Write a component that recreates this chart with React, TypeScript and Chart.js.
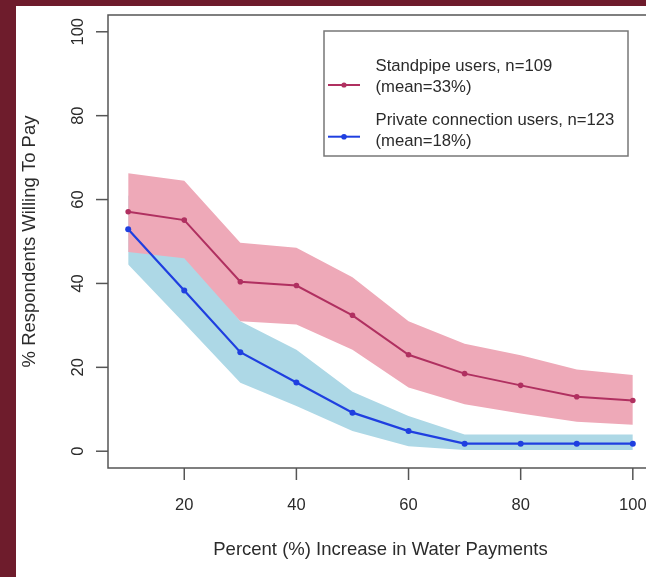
import React, { useEffect, useRef } from "react";
import { Chart, registerables } from "chart.js";

Chart.register(...registerables);

// ---- data ----
const xValues = [10, 20, 30, 40, 50, 60, 70, 80, 90, 100];

const standpipeMean = [57.1, 55.1, 40.4, 39.5, 32.4, 23.0, 18.5, 15.7, 13.0, 12.1];
const standpipeUpper = [66.3, 64.5, 49.7, 48.5, 41.5, 31.0, 25.6, 22.9, 19.5, 18.2];
const standpipeLower = [47.5, 46.0, 31.0, 30.2, 24.2, 15.2, 11.2, 9.0, 7.0, 6.3];

const privateMean = [52.9, 38.3, 23.6, 16.4, 9.2, 4.8, 1.8, 1.8, 1.8, 1.8];
const privateUpper = [61.0, 47.0, 31.0, 24.2, 14.2, 8.4, 4.0, 4.0, 4.0, 4.0];
const privateLower = [44.5, 30.5, 16.3, 10.8, 4.8, 1.2, 0.3, 0.3, 0.3, 0.3];

const xTicks = [20, 40, 60, 80, 100];
const yTicks = [0, 20, 40, 60, 80, 100];

const xTitle = "Percent (%) Increase in Water Payments";
const yTitle = "% Respondents Willing To Pay";

const standpipeLegend = ["Standpipe users, n=109", "(mean=33%)"];
const privateLegend = ["Private connection users, n=123", "(mean=18%)"];

// ---- styling ----
const FONT = '"Liberation Sans", Arial, Helvetica, sans-serif';
const W = 680;
const H = 577;
const MAROON = "#6e1c2c";
const PINK_BAND = "#eea9b8";
const BLUE_BAND = "#add8e6";
const PINK_LINE = "#b03060";
const BLUE_LINE = "#1f3fe0";
const TEXT = "#2b2b2b";
const AXIS = "#555555";

const toPts = (ys: number[]) => xValues.map((x, i) => ({ x, y: ys[i] }));

const rPlotPlugin = {
  id: "rPlot",
  beforeDraw(chart: any) {
    const ctx = chart.ctx;
    ctx.save();
    ctx.fillStyle = MAROON;
    ctx.fillRect(0, 0, W, H);
    ctx.fillStyle = "#ffffff";
    ctx.fillRect(16, 6, W - 16, H - 6);
    ctx.restore();
  },
  afterDraw(chart: any) {
    const ctx = chart.ctx;
    const a = chart.chartArea;
    const xs = chart.scales.x;
    const ys = chart.scales.y;
    ctx.save();

    // plot box
    ctx.strokeStyle = AXIS;
    ctx.lineWidth = 1.5;
    ctx.strokeRect(a.left, a.top, a.right - a.left, a.bottom - a.top);

    // x ticks + labels
    ctx.fillStyle = TEXT;
    ctx.font = `16.5px ${FONT}`;
    ctx.textAlign = "center";
    ctx.textBaseline = "alphabetic";
    for (const v of xTicks) {
      const px = xs.getPixelForValue(v);
      ctx.beginPath();
      ctx.moveTo(px, a.bottom);
      ctx.lineTo(px, a.bottom + 12);
      ctx.stroke();
      ctx.fillText(String(v), px, a.bottom + 41.5);
    }

    // y ticks + rotated labels
    for (const v of yTicks) {
      const py = ys.getPixelForValue(v);
      ctx.beginPath();
      ctx.moveTo(a.left - 12, py);
      ctx.lineTo(a.left, py);
      ctx.stroke();
      ctx.save();
      ctx.translate(a.left - 25.5, py);
      ctx.rotate(-Math.PI / 2);
      ctx.fillText(String(v), 0, 0);
      ctx.restore();
    }

    // axis titles
    ctx.font = `18.5px ${FONT}`;
    ctx.fillText(xTitle, (a.left + a.right) / 2, 555);
    ctx.save();
    ctx.translate(35, (a.top + a.bottom) / 2);
    ctx.rotate(-Math.PI / 2);
    ctx.fillText(yTitle, 0, 0);
    ctx.restore();

    // legend
    ctx.strokeStyle = "#777777";
    ctx.lineWidth = 1.5;
    ctx.strokeRect(324, 31, 304, 125);

    const entries = [
      { lines: standpipeLegend, color: PINK_LINE, sampleY: 85, base: 71, r: 2.6 },
      { lines: privateLegend, color: BLUE_LINE, sampleY: 136.7, base: 125, r: 2.8 },
    ];
    ctx.font = `16.7px ${FONT}`;
    ctx.textAlign = "left";
    for (const e of entries) {
      ctx.strokeStyle = e.color;
      ctx.lineWidth = 2;
      ctx.beginPath();
      ctx.moveTo(328, e.sampleY);
      ctx.lineTo(360, e.sampleY);
      ctx.stroke();
      ctx.fillStyle = e.color;
      ctx.beginPath();
      ctx.arc(344, e.sampleY, e.r, 0, Math.PI * 2);
      ctx.fill();
      ctx.fillStyle = TEXT;
      ctx.fillText(e.lines[0], 375.5, e.base);
      ctx.fillText(e.lines[1], 375.5, e.base + 20.6);
    }
    ctx.restore();
  },
};

export default function App() {
  const canvasRef = useRef<HTMLCanvasElement | null>(null);

  useEffect(() => {
    const canvas = canvasRef.current;
    if (!canvas) return;
    const band = (ys: number[], color: string, fill: any, order: number) => ({
      data: toPts(ys),
      borderColor: "rgba(0,0,0,0)",
      borderWidth: 0,
      backgroundColor: color,
      pointRadius: 0,
      fill,
      tension: 0,
      order,
    });
    const chart = new Chart(canvas, {
      type: "line",
      data: {
        datasets: [
          band(privateUpper, BLUE_BAND, "+1", 6),
          band(privateLower, BLUE_BAND, false, 5),
          band(standpipeUpper, PINK_BAND, "+1", 4),
          band(standpipeLower, PINK_BAND, false, 3),
          {
            data: toPts(standpipeMean),
            borderColor: PINK_LINE,
            backgroundColor: PINK_LINE,
            borderWidth: 2,
            pointRadius: 2.8,
            pointBorderWidth: 0,
            pointBackgroundColor: PINK_LINE,
            fill: false,
            tension: 0,
            order: 2,
          },
          {
            data: toPts(privateMean),
            borderColor: BLUE_LINE,
            backgroundColor: BLUE_LINE,
            borderWidth: 2.2,
            pointRadius: 3,
            pointBorderWidth: 0,
            pointBackgroundColor: BLUE_LINE,
            fill: false,
            tension: 0,
            order: 1,
          },
        ],
      },
      options: {
        animation: false,
        responsive: false,
        maintainAspectRatio: false,
        devicePixelRatio: 1,
        layout: { padding: { left: 108, top: 15, right: W - 653, bottom: H - 468 } },
        scales: {
          x: { type: "linear", min: 6.4, max: 103.6, display: false },
          y: { type: "linear", min: -4, max: 104, display: false },
        },
        plugins: {
          legend: { display: false },
          tooltip: { enabled: false },
        },
      },
      plugins: [rPlotPlugin],
    });
    return () => chart.destroy();
  }, []);

  return (
    <div
      style={{
        position: "fixed",
        left: 0,
        top: 0,
        width: 646,
        height: 577,
        overflow: "hidden",
        background: MAROON,
      }}
    >
      <canvas ref={canvasRef} width={W} height={H} style={{ display: "block" }} />
    </div>
  );
}
